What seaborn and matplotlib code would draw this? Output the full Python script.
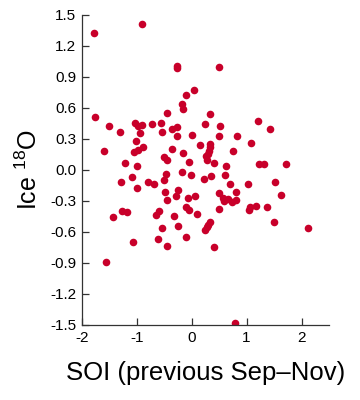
import numpy as np
import pandas as pd
import seaborn as sns
import matplotlib.pyplot as plt

# SOI (previous Sep-Nov) vs ice 18O
soi = [-1.78, -0.90, -0.27, -0.27, 0.49, 0.05, -0.10, -0.17, -0.15, -1.76,
       -0.45, 0.33, 1.20, -1.50, -1.31, -1.03, -0.98, -0.90, -0.94, -0.73,
       -0.55, -0.54, -0.36, -0.26, -0.27, 0.01, 0.24, 0.51, 0.50, 0.83,
       1.42, 1.08, -1.02, -0.89, -1.60, -1.04, -0.98, -0.36, -0.15, 0.16,
       0.34, 0.33, 0.31, 0.30, 0.27, 0.28, 0.76, 0.41, -0.50, -0.44,
       -1.22, -0.99, -0.05, 0.62, 1.23, 1.32, 1.71, -1.08, -0.47, -0.18,
       -0.02, 0.36, 0.60, -1.28, -0.80, -0.69, -0.50, 0.22, 0.70, 1.02,
       1.52, -0.99, -0.48, -0.24, 0.50, 0.80, 1.63, -0.28, 0.07, -0.45,
       -0.06, 0.57, 0.67, 0.59, 0.74, 0.80, -0.10, -0.05, -1.27, -1.18,
       -0.59, -0.65, 0.09, 0.50, 1.05, 1.07, 1.18, 1.38, -1.43, -0.33,
       0.33, 0.30, 0.28, 0.25, -0.24, -0.54, 1.50, 2.12, -0.62, -0.11,
       -1.06, -0.44, 0.41, -1.56, 0.78]
ice18o = [1.32, 1.41, 1.00, 0.98, 0.99, 0.77, 0.72, 0.64, 0.59, 0.51,
          0.55, 0.54, 0.47, 0.42, 0.37, 0.45, 0.42, 0.43, 0.36, 0.44,
          0.45, 0.37, 0.39, 0.41, 0.33, 0.34, 0.44, 0.42, 0.33, 0.33,
          0.39, 0.26, 0.28, 0.22, 0.18, 0.17, 0.19, 0.20, 0.16, 0.24,
          0.25, 0.22, 0.18, 0.15, 0.13, 0.09, 0.18, 0.07, 0.12, 0.09,
          0.07, 0.04, 0.08, 0.035, 0.06, 0.06, 0.06, -0.07, -0.04, -0.02,
          -0.05, -0.06, -0.05, -0.12, -0.12, -0.14, -0.10, -0.09, -0.14, -0.14,
          -0.12, -0.18, -0.21, -0.20, -0.22, -0.21, -0.24, -0.25, -0.25, -0.29,
          -0.27, -0.27, -0.28, -0.30, -0.31, -0.29, -0.36, -0.39, -0.40, -0.41,
          -0.40, -0.44, -0.43, -0.38, -0.39, -0.36, -0.35, -0.36, -0.46, -0.45,
          -0.50, -0.53, -0.55, -0.58, -0.54, -0.56, -0.50, -0.56, -0.67, -0.65,
          -0.70, -0.74, -0.75, -0.89, -1.48]

x_ticks = [-2, -1, 0, 1, 2]
y_ticks = [-1.5, -1.2, -0.9, -0.6, -0.3, 0.0, 0.3, 0.6, 0.9, 1.2, 1.5]

df = pd.DataFrame({"soi": soi, "ice": ice18o})

sns.set_style("white")
plt.rcParams['font.family'] = ['Liberation Sans', 'DejaVu Sans']
plt.rcParams['mathtext.fontset'] = 'custom'
plt.rcParams['mathtext.rm'] = 'Liberation Sans'
plt.rcParams['mathtext.default'] = 'regular'

fig = plt.figure(figsize=(3.6, 4.0), dpi=100)
ax = fig.add_axes([0.227, 0.1875, 0.687, 0.776])

sns.scatterplot(data=df, x="soi", y="ice", ax=ax, color="#c8002a",
                s=30, linewidth=0, alpha=1)

ax.set_xlim(-2, 2.5)
ax.set_ylim(-1.5, 1.5)
ax.set_xticks(x_ticks)
ax.set_xticklabels([str(t) for t in x_ticks])
ax.set_yticks(y_ticks)
ax.set_yticklabels([f"{t:.1f}" for t in y_ticks])

# only left and bottom spines, ticks pointing inward
sns.despine(ax=ax)
for side in ["left", "bottom"]:
    ax.spines[side].set_color("#333333")
    ax.spines[side].set_linewidth(0.9)
ax.tick_params(bottom=True, left=True, direction="in", length=5, width=0.9,
               color="#333333", labelsize=11, labelcolor="black", pad=4)

ax.set_xlabel("SOI (previous Sep\u2013Nov)", fontsize=18.5, labelpad=12,
              color="black")
ax.set_ylabel("Ice $^{18}$O", fontsize=18, labelpad=6, color="black")

fig.savefig("out.png", dpi=100)
